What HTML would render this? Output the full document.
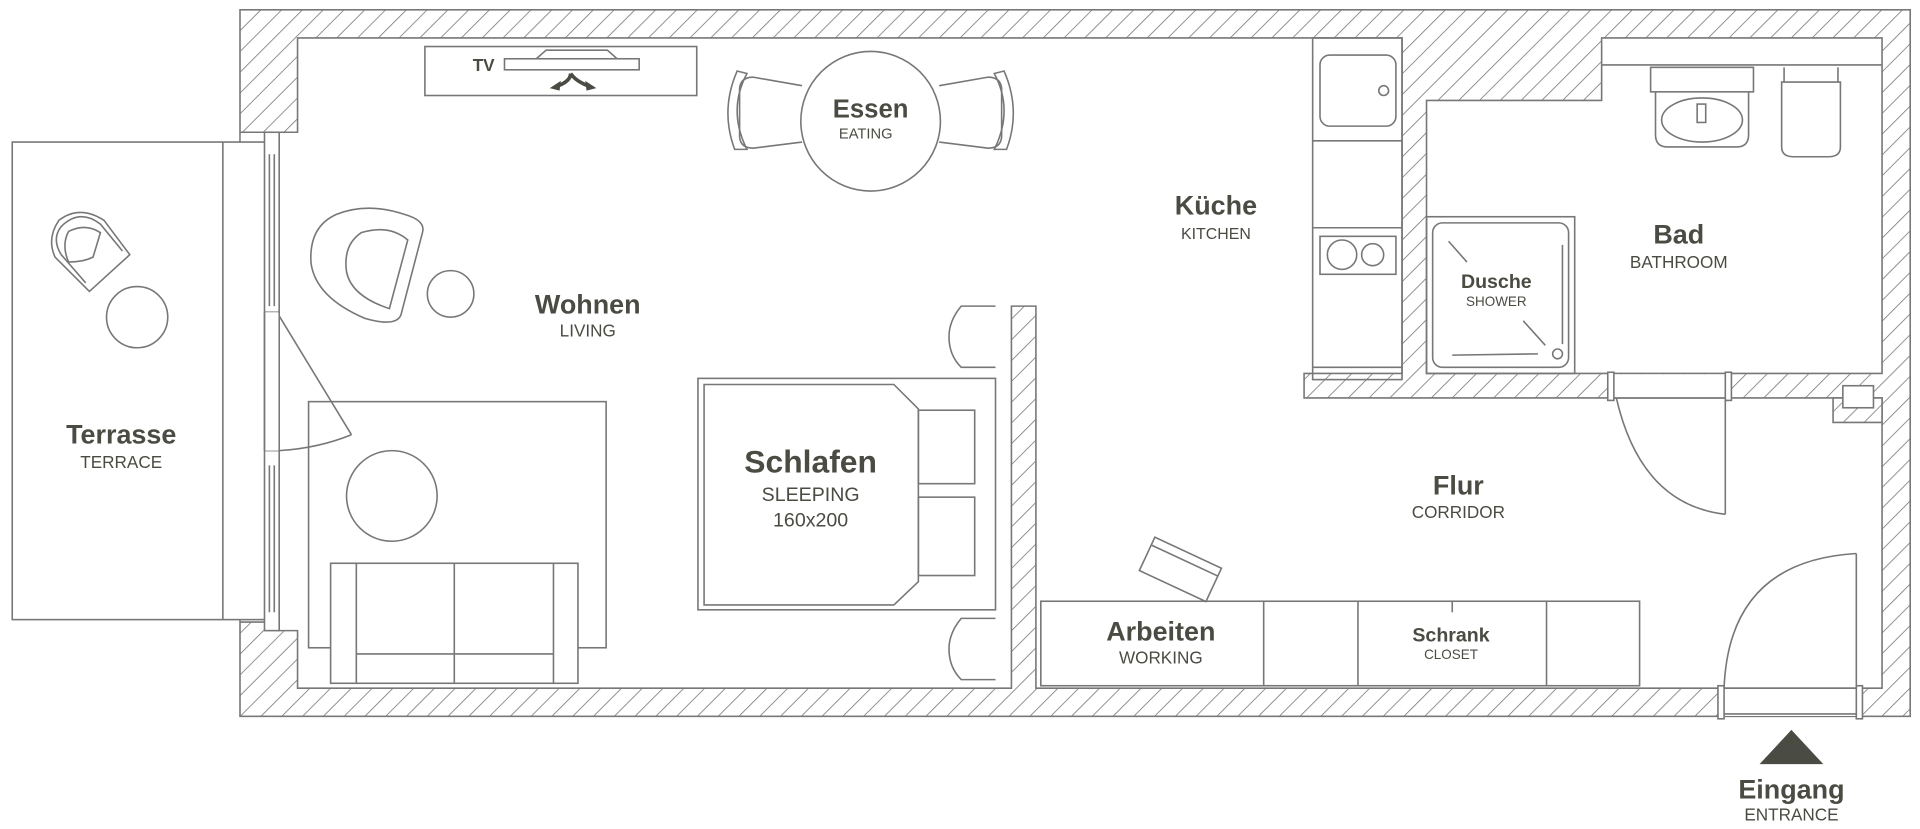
<!DOCTYPE html>
<html><head><meta charset="utf-8"><style>
html,body{margin:0;padding:0;background:#fff;overflow:hidden}
svg{display:block}
text{font-family:"Liberation Sans",sans-serif;fill:#4a4b42;text-anchor:middle}
.b{font-weight:bold}
</style></head><body>
<svg width="1920" height="829" viewBox="0 0 1568 677" preserveAspectRatio="none" xmlns="http://www.w3.org/2000/svg">
<defs>
<pattern id="h" patternUnits="userSpaceOnUse" width="12" height="12" patternTransform="rotate(45)">
<rect width="12" height="12" fill="#fff"/><line x1="0" y1="0" x2="0" y2="12" stroke="#777" stroke-width="1.3"/>
</pattern>
</defs>
<g stroke="#777" stroke-width="1.3" fill="none">
<rect x="196" y="8" width="1364" height="577" fill="url(#h)"/>
<rect x="196.7" y="108" width="46" height="400" fill="#fff" stroke="none"/>
<line x1="196" y1="108" x2="216" y2="108"/>
<line x1="196" y1="508" x2="216" y2="508"/>
<polygon fill="#fff" points="243,31 1145,31 1145,305 1065,305 1065,325 1537,325 1537,562 846,562 846,250 826,250 826,562 243,562 243,515 228,515 228,108 243,108"/>
<polygon fill="#fff" points="1308,31 1537,31 1537,305 1165,305 1165,82 1308,82"/>
<line x1="1308" y1="53" x2="1537" y2="53"/>
<polygon fill="url(#h)" points="1497,325 1537,325 1537,345 1497,345"/>
<rect x="1505" y="315" width="25" height="18" fill="#fff"/>
<rect x="1315" y="305.7" width="97" height="19" fill="#fff" stroke="none"/>
<rect x="1313" y="304" width="5" height="23" fill="#fff"/>
<rect x="1409" y="304" width="5" height="23" fill="#fff"/>
<line x1="1318" y1="325" x2="1409" y2="325"/>
<line x1="1409" y1="325" x2="1409" y2="420"/>
<path d="M1320,325 Q1340,412 1409,420"/>
<rect x="1405" y="562.7" width="115" height="22" fill="#fff" stroke="none"/>
<rect x="1403" y="560" width="5" height="27" fill="#fff"/>
<rect x="1516" y="560" width="5" height="27" fill="#fff"/>
<line x1="1408" y1="562" x2="1516" y2="562"/>
<line x1="1408" y1="583" x2="1516" y2="583"/>
<line x1="1516" y1="562" x2="1516" y2="452"/>
<path d="M1408,562 Q1412,458 1516,452"/>
<rect x="10" y="116" width="208" height="390" fill="#fff"/>
<line x1="182" y1="116" x2="182" y2="506"/>
<rect x="216" y="108" width="12" height="407" fill="#fff"/>
<line x1="220" y1="126" x2="220" y2="250"/><line x1="224" y1="126" x2="224" y2="250"/>
<line x1="216" y1="255" x2="228" y2="255"/><line x1="216" y1="368" x2="228" y2="368"/>
<line x1="220" y1="380" x2="220" y2="500"/><line x1="224" y1="380" x2="224" y2="500"/>
<rect x="216.7" y="255" width="10.6" height="113" fill="#fff" stroke="none"/>
<line x1="216" y1="255" x2="216" y2="368"/>
<line x1="228" y1="258" x2="287" y2="355"/>
<path d="M287,355 Q260,366 228,368"/>
<!-- terrace chair -->
<path d="M73,238 L106,208 L85,180 Q65,167 48,180 Q38,195 45,210 Z"/>
<path d="M70,231 L50,208 Q42,195 50,185 Q65,170 82,183 L100,205"/>
<path d="M56,214 Q50,200 56,189 Q70,182 82,190 L76,210 Q68,214 56,214 Z"/>
<circle cx="112" cy="259" r="25"/>
<!-- armchair -->
<path d="M275,175 Q252,185 254,215 Q258,243 298,260 Q326,268 328,255 L345,190 Q348,180 330,175 Q300,165 275,175 Z"/>
<path d="M295,190 Q280,200 283,222 Q287,242 318,252 L333,196 Q318,183 295,190 Z"/>
<circle cx="368" cy="240" r="19"/>
<rect x="347" y="38" width="222" height="40"/>
<rect x="412" y="48" width="110" height="9"/>
<path d="M438,48 L446,41 L496,41 L504,48"/>
<circle cx="711" cy="99" r="57"/>
<path d="M655,70 L615,63 Q605,63 604,72 L604,112 Q605,121 615,121 L655,116"/>
<path d="M610,60 Q594,90 610,122 L600,122 Q588,90 602,58 Z"/>
<path d="M767,70 L807,63 Q817,63 818,72 L818,112 Q817,121 807,121 L767,116"/>
<path d="M812,60 Q828,90 812,122 L822,122 Q834,90 820,58 Z"/>
<rect x="252" y="328" width="243" height="201"/>
<circle cx="320" cy="405" r="37"/>
<rect x="270" y="460" width="202" height="98" fill="#fff"/>
<line x1="291" y1="460" x2="291" y2="558"/><line x1="452" y1="460" x2="452" y2="558"/>
<line x1="371" y1="460" x2="371" y2="558"/><line x1="291" y1="534" x2="452" y2="534"/>
<rect x="570" y="309" width="243" height="189"/>
<polygon points="575,314 730,314 750,334 750,475 730,494 575,494"/>
<rect x="750" y="335" width="46" height="60"/><rect x="750" y="406" width="46" height="64"/>
<path d="M813,250 L785,250 Q775,262 775,275 Q775,290 785,300 L813,300"/>
<path d="M813,505 L785,505 Q775,517 775,530 Q775,545 785,555 L813,555"/>
<rect x="1072" y="31" width="73" height="279"/>
<line x1="1072" y1="115" x2="1145" y2="115"/>
<line x1="1072" y1="186" x2="1145" y2="186"/>
<line x1="1072" y1="300" x2="1145" y2="300"/>
<rect x="1078" y="45" width="62" height="58" rx="8"/>
<circle cx="1130" cy="74" r="4"/>
<rect x="1078" y="193" width="62" height="31"/>
<circle cx="1096" cy="208" r="12"/><circle cx="1121" cy="208" r="9"/>
<rect x="1348" y="55" width="84" height="20"/>
<path d="M1352,75 L1352,110 Q1352,120 1362,120 L1418,120 Q1428,120 1428,110 L1428,75"/>
<ellipse cx="1390" cy="98" rx="33" ry="18"/>
<rect x="1386" y="85" width="7" height="15"/>
<path d="M1455,67 L1503,67 L1503,120 Q1503,128 1493,128 L1465,128 Q1455,128 1455,120 Z"/>
<line x1="1457" y1="55" x2="1457" y2="67"/><line x1="1501" y1="55" x2="1501" y2="67"/>
<rect x="1165" y="177" width="121" height="128"/>
<rect x="1170" y="182" width="111" height="118" rx="8"/>
<line x1="1183" y1="197" x2="1198" y2="214"/><line x1="1244" y1="262" x2="1262" y2="282"/>
<line x1="1186" y1="290" x2="1256" y2="289"/><line x1="1276" y1="200" x2="1276" y2="281"/>
<circle cx="1272" cy="289" r="4"/>
<rect x="850" y="491" width="489" height="69"/>
<line x1="1032" y1="491" x2="1032" y2="560"/><line x1="1109" y1="491" x2="1109" y2="560"/>
<line x1="1263" y1="491" x2="1263" y2="560"/><line x1="1186" y1="491" x2="1186" y2="500"/>
<g transform="translate(964,465) rotate(25)">
<rect x="-30" y="-15" width="60" height="30"/><line x1="-30" y1="-8" x2="30" y2="-8"/>
</g>
</g>
<g fill="none" stroke="#4a4b42" stroke-width="3">
<path d="M466,60 Q466,66 456,70"/><path d="M466,60 Q470,66 480,70"/>
</g>
<polygon fill="#4a4b42" points="449,72 458,66 457,74"/>
<polygon fill="#4a4b42" points="487,72 478,66 479,74"/>
<polygon fill="#4a4b42" points="1437,624 1463,596 1489,624"/>
<text x="395" y="58" class="b" font-size="14">TV</text>
<text x="711" y="96" class="b" font-size="21">Essen</text>
<text x="707" y="113" font-size="12">EATING</text>
<text x="993" y="175" class="b" font-size="22">Küche</text>
<text x="993" y="195" font-size="13">KITCHEN</text>
<text x="1371" y="199" class="b" font-size="22">Bad</text>
<text x="1371" y="219" font-size="14">BATHROOM</text>
<text x="1222" y="235" class="b" font-size="16">Dusche</text>
<text x="1222" y="250" font-size="11">SHOWER</text>
<text x="480" y="256" class="b" font-size="22">Wohnen</text>
<text x="480" y="275" font-size="14">LIVING</text>
<text x="99" y="362" class="b" font-size="22">Terrasse</text>
<text x="99" y="382" font-size="14">TERRACE</text>
<text x="662" y="386" class="b" font-size="26">Schlafen</text>
<text x="662" y="409" font-size="16">SLEEPING</text>
<text x="662" y="430" font-size="16">160x200</text>
<text x="1191" y="404" class="b" font-size="22">Flur</text>
<text x="1191" y="423" font-size="14">CORRIDOR</text>
<text x="948" y="523" class="b" font-size="22">Arbeiten</text>
<text x="948" y="542" font-size="14">WORKING</text>
<text x="1185" y="524" class="b" font-size="16">Schrank</text>
<text x="1185" y="538" font-size="11">CLOSET</text>
<text x="1463" y="652" class="b" font-size="22">Eingang</text>
<text x="1463" y="670" font-size="14">ENTRANCE</text>
</svg>
</body></html>
